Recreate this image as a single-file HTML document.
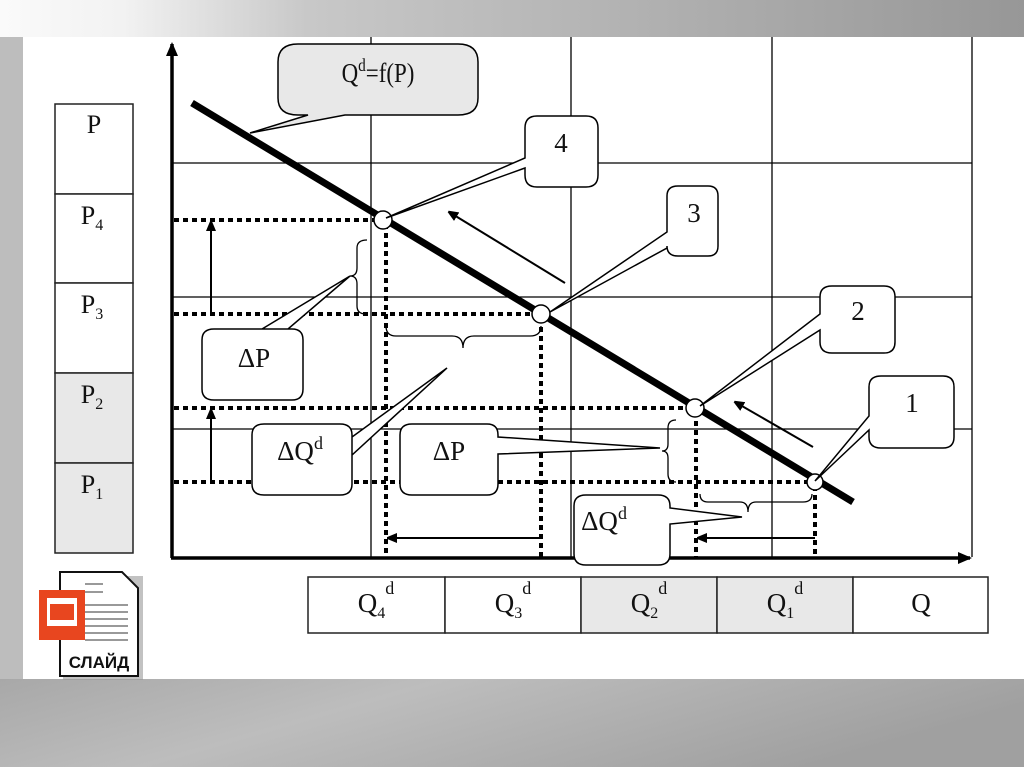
<!DOCTYPE html>
<html><head><meta charset="utf-8"><style>
html,body{margin:0;padding:0;background:#fff;}
svg{display:block;}
text{font-family:"Liberation Serif",serif;fill:#111;}
</style></head><body>
<svg width="1024" height="767" viewBox="0 0 1024 767" xmlns="http://www.w3.org/2000/svg">
<defs>
<linearGradient id="top" x1="0" y1="0" x2="1" y2="0">
<stop offset="0" stop-color="#fafafa"/><stop offset="0.12" stop-color="#f2f2f2"/><stop offset="0.3" stop-color="#c8c8c8"/><stop offset="1" stop-color="#979797"/>
</linearGradient>
<linearGradient id="bot" x1="0" y1="0" x2="1" y2="0.3">
<stop offset="0" stop-color="#a8a8a8"/><stop offset="0.4" stop-color="#bdbdbd"/><stop offset="1" stop-color="#a0a0a0"/>
</linearGradient>
<marker id="ah" markerWidth="10" markerHeight="10" refX="9" refY="5" orient="auto" markerUnits="userSpaceOnUse"><path d="M0,0 L12,5 L0,10 z" fill="#000"/></marker>
<marker id="ah2" markerWidth="14" markerHeight="12" refX="12" refY="6" orient="auto" markerUnits="userSpaceOnUse"><path d="M0,0 L14,6 L0,12 z" fill="#000"/></marker>
</defs>
<rect x="0" y="0" width="1024" height="37" fill="url(#top)"/>
<rect x="0" y="679" width="1024" height="88" fill="url(#bot)"/>
<rect x="0" y="37" width="23" height="642" fill="#bdbdbd"/>
<rect x="23" y="37" width="1001" height="642" fill="#fff"/>

<g stroke="#000" stroke-width="1.3" fill="none">
<line x1="371" y1="37" x2="371" y2="557"/>
<line x1="571" y1="37" x2="571" y2="557"/>
<line x1="772" y1="37" x2="772" y2="557"/>
<line x1="972" y1="37" x2="972" y2="557"/>
<line x1="172" y1="163" x2="972" y2="163"/>
<line x1="172" y1="297" x2="972" y2="297"/>
<line x1="172" y1="429" x2="972" y2="429"/>
</g>
<g stroke="#000" stroke-width="4" stroke-dasharray="5,4" fill="none">
<line x1="174" y1="220" x2="383" y2="220"/>
<line x1="174" y1="314" x2="538" y2="314"/>
<line x1="174" y1="408" x2="692" y2="408"/>
<line x1="174" y1="482" x2="812" y2="482"/>
<line x1="386" y1="224" x2="386" y2="557"/>
<line x1="541" y1="318" x2="541" y2="557"/>
<line x1="696" y1="412" x2="696" y2="557"/>
<line x1="815" y1="486" x2="815" y2="557"/>
</g>
<line x1="172" y1="558" x2="172" y2="44" stroke="#000" stroke-width="3.5" marker-end="url(#ah2)"/>
<line x1="171" y1="558" x2="970" y2="558" stroke="#000" stroke-width="3.5" marker-end="url(#ah2)"/>
<line x1="192" y1="103" x2="853" y2="502" stroke="#000" stroke-width="7"/>
<g stroke="#000" stroke-width="2" fill="none">
<line x1="565" y1="283" x2="449" y2="212" marker-end="url(#ah)"/>
<line x1="813" y1="447" x2="735" y2="402" marker-end="url(#ah)"/>
<line x1="211" y1="314" x2="211" y2="222" marker-end="url(#ah)"/>
<line x1="211" y1="482" x2="211" y2="410" marker-end="url(#ah)"/>
<line x1="541" y1="538" x2="388" y2="538" marker-end="url(#ah)"/>
<line x1="815" y1="538" x2="698" y2="538" marker-end="url(#ah)"/>
</g>
<g stroke="#000" stroke-width="1.3" fill="none">
<path d="M367,240 Q357,240 357,248 L357,268 Q357,276 350,276 Q357,276 357,284 L357,306 Q357,314 366,314"/>
<path d="M386,326 Q386,336 396,336 L452,336 Q463,336 463,348 Q463,336 474,336 L530,336 Q541,336 541,326"/>
<path d="M676,420 Q668,420 668,428 L668,444 Q668,451 662,451 Q668,451 668,458 L668,474 Q668,482 676,482"/>
<path d="M700,494 Q700,502 708,502 L740,502 Q748,502 748,512 Q748,502 756,502 L803,502 Q812,502 812,494"/>
</g>
<g fill="#fff" stroke="#000" stroke-width="1.5">
<circle cx="383" cy="220" r="9"/>
<circle cx="541" cy="314" r="9"/>
<circle cx="695" cy="408" r="9"/>
<circle cx="815" cy="482" r="8"/>
</g>
<g stroke="#000" stroke-width="1.5">
<path d="M298,44 L458,44 Q478,44 478,62 L478,98 Q478,115 458,115 L345,115 L250,133 L308,115 L298,115 Q278,115 278,98 L278,62 Q278,44 298,44 Z" fill="#e8e8e8"/>
<path d="M537,116 L586,116 Q598,116 598,128 L598,175 Q598,187 586,187 L537,187 Q525,187 525,175 L525,168 L386,218 L525,158 L525,128 Q525,116 537,116 Z" fill="#fff"/>
<path d="M678,186 L708,186 Q718,186 718,196 L718,246 Q718,256 708,256 L678,256 Q667,256 667,246 L667,248 L550,312 L667,232 L667,196 Q667,186 678,186 Z" fill="#fff"/>
<path d="M832,286 L884,286 Q895,286 895,297 L895,342 Q895,353 884,353 L832,353 Q820,353 820,342 L820,330 L700,406 L820,314 L820,297 Q820,286 832,286 Z" fill="#fff"/>
<path d="M881,376 L943,376 Q954,376 954,387 L954,437 Q954,448 943,448 L881,448 Q869,448 869,437 L869,430 L815,481 L869,416 L869,387 Q869,376 881,376 Z" fill="#fff"/>
<path d="M214,329 L292,329 Q303,329 303,340 L303,389 Q303,400 292,400 L214,400 Q202,400 202,389 L202,340 Q202,329 214,329 L262,329 L350,276 L288,329 Z" fill="#fff"/>
<path d="M264,424 L340,424 Q352,424 352,435 L352,455 L447,368 L352,437 L352,484 Q352,495 340,495 L264,495 Q252,495 252,484 L252,435 Q252,424 264,424 Z" fill="#fff"/>
<path d="M412,424 L487,424 Q498,424 498,435 L498,437 L660,448 L498,454 L498,484 Q498,495 487,495 L412,495 Q400,495 400,484 L400,435 Q400,424 412,424 Z" fill="#fff"/>
<path d="M586,495 L658,495 Q670,495 670,506 L670,508 L742,517 L670,524 L670,554 Q670,565 658,565 L586,565 Q574,565 574,554 L574,506 Q574,495 586,495 Z" fill="#fff"/>
</g>
<g font-size="27" text-anchor="middle">
<text x="378" y="82" transform="translate(378 0) scale(0.85 1) translate(-378 0)">Q<tspan font-size="18" dy="-11">d</tspan><tspan dy="11">=f(P)</tspan></text>
<text x="561" y="152">4</text>
<text x="694" y="222">3</text>
<text x="858" y="320">2</text>
<text x="912" y="412">1</text>
<text x="254" y="367">ΔP</text>
<text x="300" y="460">ΔQ<tspan font-size="18" dy="-11">d</tspan></text>
<text x="449" y="460">ΔP</text>
<text x="604" y="530">ΔQ<tspan font-size="18" dy="-11">d</tspan></text>
</g>
<g stroke="#222" stroke-width="1.5">
<rect x="55" y="104" width="78" height="90" fill="#fff"/>
<rect x="55" y="194" width="78" height="89" fill="#fff"/>
<rect x="55" y="283" width="78" height="90" fill="#fff"/>
<rect x="55" y="373" width="78" height="90" fill="#e8e8e8"/>
<rect x="55" y="463" width="78" height="90" fill="#e8e8e8"/>
</g>
<g font-size="26" text-anchor="middle">
<text x="94" y="133">P</text>
<text x="92" y="224">P<tspan font-size="16" dy="6">4</tspan></text>
<text x="92" y="313">P<tspan font-size="16" dy="6">3</tspan></text>
<text x="92" y="403">P<tspan font-size="16" dy="6">2</tspan></text>
<text x="92" y="493">P<tspan font-size="16" dy="6">1</tspan></text>
</g>
<g stroke="#222" stroke-width="1.5">
<rect x="308" y="577" width="137" height="56" fill="#fff"/>
<rect x="445" y="577" width="136" height="56" fill="#fff"/>
<rect x="581" y="577" width="136" height="56" fill="#e8e8e8"/>
<rect x="717" y="577" width="136" height="56" fill="#e8e8e8"/>
<rect x="853" y="577" width="135" height="56" fill="#fff"/>
</g>
<g font-size="27" text-anchor="middle">
<text x="376" y="612">Q<tspan font-size="16" dy="6">4</tspan><tspan font-size="18" dy="-24">d</tspan></text>
<text x="513" y="612">Q<tspan font-size="16" dy="6">3</tspan><tspan font-size="18" dy="-24">d</tspan></text>
<text x="649" y="612">Q<tspan font-size="16" dy="6">2</tspan><tspan font-size="18" dy="-24">d</tspan></text>
<text x="785" y="612">Q<tspan font-size="16" dy="6">1</tspan><tspan font-size="18" dy="-24">d</tspan></text>
<text x="921" y="612">Q</text>
</g>
<rect x="63" y="576" width="80" height="104" fill="#999" opacity="0.6"/>
<path d="M60,572 L122,572 L138,588 L138,676 L60,676 Z" fill="#fff" stroke="#111" stroke-width="2"/>
<g stroke="#999" stroke-width="2">
<line x1="85" y1="584" x2="103" y2="584"/><line x1="85" y1="592" x2="103" y2="592"/>
<line x1="85" y1="605" x2="128" y2="605"/><line x1="85" y1="612" x2="128" y2="612"/>
<line x1="85" y1="619" x2="128" y2="619"/><line x1="85" y1="626" x2="128" y2="626"/>
<line x1="85" y1="633" x2="128" y2="633"/><line x1="85" y1="640" x2="128" y2="640"/>
</g>
<rect x="39" y="590" width="46" height="50" fill="#e8461f"/>
<rect x="47" y="598" width="30" height="28" fill="#fff"/>
<rect x="50" y="604" width="24" height="16" fill="#e8461f"/>
<text x="99" y="668" font-size="17" font-weight="bold" text-anchor="middle" style="font-family:'Liberation Sans',sans-serif">СЛАЙД</text>
</svg>
</body></html>
